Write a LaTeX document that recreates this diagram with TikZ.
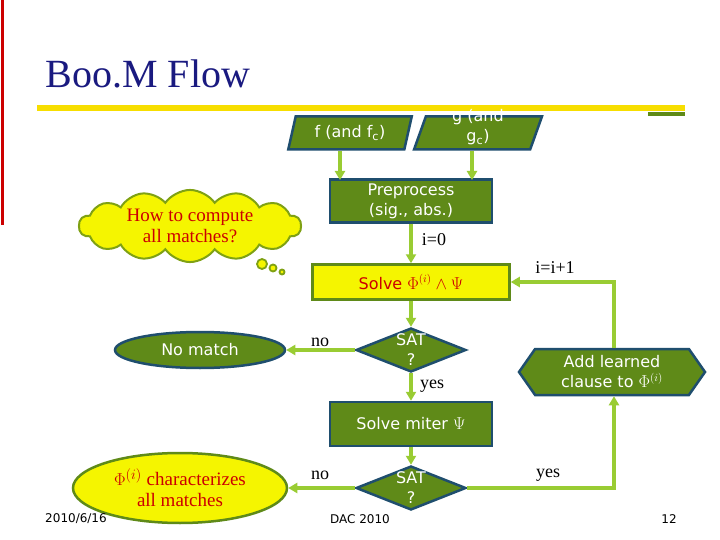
\documentclass[tikz,border=0pt]{standalone}
\usepackage{fontspec}
\setmainfont{Liberation Serif}
\newfontfamily\vsans{DejaVu Sans}
\usetikzlibrary{shapes.geometric,shapes.symbols,arrows.meta}
\definecolor{gfill}{HTML}{5F8A18}
\definecolor{gedge}{HTML}{1F4E6E}
\definecolor{arr}{HTML}{99CC33}
\definecolor{yel}{HTML}{F5F500}
\definecolor{tred}{HTML}{CC0000}
\definecolor{navy}{HTML}{1A1A80}
\begin{document}
\begin{tikzpicture}[x=1pt,y=-1pt,
 box/.style={draw=gedge,line width=2.5pt,fill=gfill,text=white,font=\vsans\fontsize{16}{20}\selectfont,align=center,inner sep=0pt},
 flow/.style={draw=arr,line width=3.5pt,-{Triangle[length=9pt,width=10pt]}},
 lab/.style={font=\fontsize{18}{20}\selectfont}]
\useasboundingbox (0,0) rectangle (720,540);
\fill[white] (0,0) rectangle (720,540);
\draw[tred,line width=3pt] (2,0) -- (2,225);
\node[anchor=base west,text=navy,font=\fontsize{40}{44}\selectfont] (title) at (42,88) {Boo.M Flow};
\fill[yel!80!orange] (37,105) rectangle (685,111);
\fill[gfill] (648,112) rectangle (685,116);
\node[box,trapezium,trapezium left angle=72,trapezium right angle=108,minimum width=124pt,minimum height=33pt,trapezium stretches=true] (f) at (350,133) {f (and f\textsubscript{c})};
\node[box,trapezium,trapezium left angle=72,trapezium right angle=108,minimum width=128pt,minimum height=33pt,trapezium stretches=true,text height=18pt,text depth=0pt] (g) at (478,133) {g (and\\ g\textsubscript{c})};
\node[box,minimum width=162pt,minimum height=43pt] (pre) at (411,201) {Preprocess\\(sig., abs.)};
\node[box,fill=yel,draw=gfill,text=tred,minimum width=197pt,minimum height=35pt] (solve) at (411,282) {Solve \textcolor{tred}{$\Phi^{(i)}\wedge\Psi$}};
\node[box,diamond,aspect=2.5,minimum width=110pt,minimum height=44pt] (sat1) at (411,350) {SAT\\?};
\node[box,ellipse,minimum width=170pt,minimum height=36pt] (nm) at (200,350) {No match};
\node[box,minimum width=162pt,minimum height=44pt] (miter) at (411,424) {Solve miter $\Psi$};
\node[box,diamond,aspect=2.5,minimum width=110pt,minimum height=44pt] (sat2) at (411,488) {SAT\\?};
\node[box,ellipse,fill=yel,draw=gfill,text=tred,font=\fontsize{19}{21}\selectfont,minimum width=214pt,minimum height=70pt] (ch) at (180,488) {$\Phi^{(i)}$ characterizes\\all matches};
\node[box,signal,signal to=west and east,signal pointer angle=110,minimum width=186pt,minimum height=46pt] (add) at (612,372) {Add learned\\clause to $\Phi^{(i)}$};
\node[cloud,cloud puffs=14,cloud puff arc=110,aspect=3.4,draw=gfill!80!yellow,line width=2pt,fill=yel,text=tred,font=\fontsize{19}{21}\selectfont,align=center,minimum width=222pt,minimum height=64pt,inner sep=0pt] (cloud) at (190,226) {How to compute\\all matches?};
\foreach \p/\r in {{(262,264)}/5,{(273,268)}/3.5,{(282,272)}/2.5}
  \draw[gfill!80!yellow,line width=1.8pt,fill=yel] \p circle (\r);
\coordinate (fb) at (340,180);
\coordinate (gb) at (472,180);
\draw[flow] (f.south -| fb) -- (fb);
\draw[flow] (g.south -| gb) -- (gb);
\draw[flow] (pre) -- (solve);
\draw[flow] (solve) -- (sat1);
\draw[flow] (sat1) -- (nm);
\draw[flow] (sat1) -- (miter);
\draw[flow] (miter) -- (sat2);
\draw[flow] (sat2) -- (ch);
\coordinate (c1) at (614,488);
\draw[flow] (sat2.east) -- (c1) -- (c1 |- add.south);
\coordinate (c2) at (614,282);
\draw[flow] (c2 |- add.north) -- (c2) -- (solve.east);
\node[lab] (i0) at (434,240) {i=0};
\node[lab] (ii) at (555,268) {i=i+1};
\node[lab] (no1) at (320,342) {no};
\node[lab] (yes1) at (432,386) {yes};
\node[lab] (no2) at (320,475) {no};
\node[lab] (yes2) at (548,475) {yes};
\node[font=\vsans\fontsize{12}{14}\selectfont] (d) at (76,519) {2010/6/16};
\node[font=\vsans\fontsize{12}{14}\selectfont] (dac) at (360,519) {DAC 2010};
\node[font=\vsans\fontsize{12}{14}\selectfont] (pg) at (669,519) {12};
\end{tikzpicture}
\end{document}
